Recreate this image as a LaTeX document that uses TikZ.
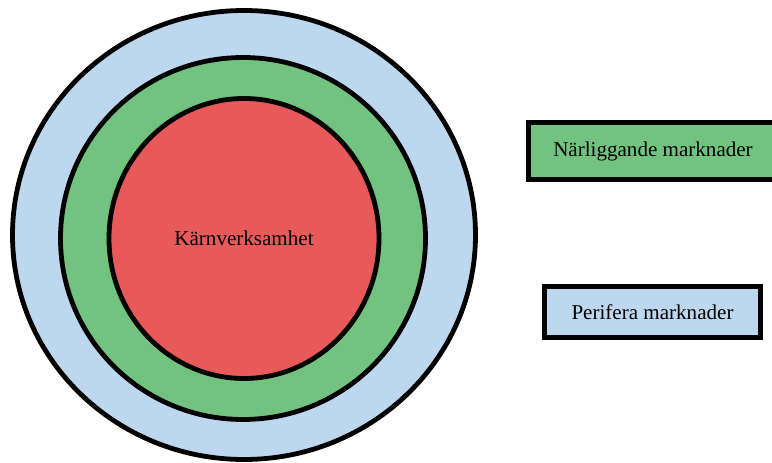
\documentclass[tikz,border=0pt]{standalone}
\usepackage{fontspec}
\setmainfont{Liberation Serif}
\usetikzlibrary{shapes.geometric}

\definecolor{periblue}{RGB}{189,215,238}
\definecolor{naergreen}{RGB}{114,195,128}
\definecolor{kaernred}{RGB}{232,90,90}

\tikzset{
  ring/.style={ellipse,draw=black,line width=3.6pt,inner sep=0pt},
  labelbox/.style={rectangle,draw=black,line width=3.6pt,inner sep=0pt},
}

\begin{document}
\begin{tikzpicture}[x=0.75pt,y=-0.75pt,font=\fontsize{15.8}{19}\selectfont]

\useasboundingbox (0,0) rectangle (772,463);
\clip (0,0) rectangle (772,463);

\node[ring,fill=periblue,minimum width=347.25pt,minimum height=336.75pt] (perifer) at (244,235) {};
\node[ring,fill=naergreen,minimum width=273.75pt,minimum height=271.5pt] (naer) at (243,238.5) {};
\node[ring,fill=kaernred,minimum width=202.5pt,minimum height=210pt] (kaern) at (244,238.5) {K\"arnverksamhet};


\node[labelbox,fill=naergreen,minimum width=186.75pt,minimum height=42.75pt] (naerbox) at (653,151) {N\"arliggande marknader};
\node[labelbox,fill=periblue,minimum width=162pt,minimum height=38.25pt] (periferbox) at (652.5,312) {Perifera marknader};

\end{tikzpicture}
\end{document}
